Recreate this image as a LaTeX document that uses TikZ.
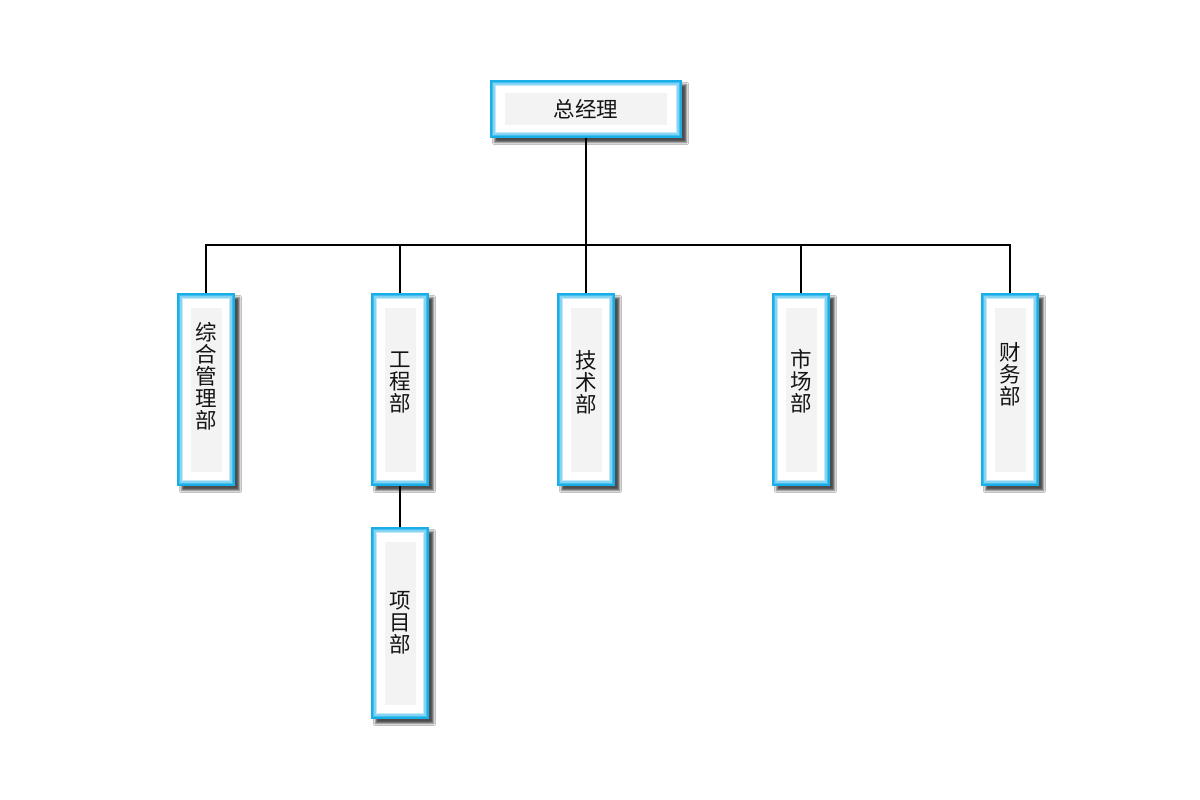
\documentclass[tikz,border=0pt]{standalone}
\usepackage{fontspec}
\newfontfamily\cjk{Noto Sans CJK SC}
\usetikzlibrary{shadows.blur}
\definecolor{bc1}{HTML}{18AEE8}
\definecolor{bc2}{HTML}{45BEEE}
\definecolor{bc3}{HTML}{86D4F4}
\definecolor{bc4}{HTML}{C4E9F9}
\definecolor{ingray}{HTML}{F3F3F3}
\definecolor{txt}{HTML}{141414}
\tikzset{
  box/.style={rectangle, inner sep=0pt, fill=bc1, text=txt, align=center,
    font={\cjk\fontsize{21.5}{22}\selectfont},
    blur shadow={shadow xshift=4.5pt, shadow yshift=-4.5pt, shadow blur radius=2.2pt, shadow opacity=70},
    path picture={
      \fill[bc2] ([shift={(2pt,-2pt)}]path picture bounding box.north west) rectangle ([shift={(-2pt,2pt)}]path picture bounding box.south east);
      \fill[bc3] ([shift={(3.4pt,-3.4pt)}]path picture bounding box.north west) rectangle ([shift={(-3.4pt,3.4pt)}]path picture bounding box.south east);
      \fill[bc4] ([shift={(4.8pt,-4.8pt)}]path picture bounding box.north west) rectangle ([shift={(-4.8pt,4.8pt)}]path picture bounding box.south east);
      \fill[white] ([shift={(6.2pt,-6.2pt)}]path picture bounding box.north west) rectangle ([shift={(-6.2pt,6.2pt)}]path picture bounding box.south east);
      \fill[ingray] ([shift={(\pgfkeysvalueof{/tikz/inx},-\pgfkeysvalueof{/tikz/iny})}]path picture bounding box.north west) rectangle ([shift={(-\pgfkeysvalueof{/tikz/inx},\pgfkeysvalueof{/tikz/iny})}]path picture bounding box.south east);
    }},
  inx/.initial=15pt, iny/.initial=13pt,
  dept/.style={box, minimum width=58pt, minimum height=193pt, inx=13.5pt, iny=14.5pt},
  conn/.style={draw=black, line width=2pt}
}
\begin{document}
\begin{tikzpicture}[x=1pt,y=-1pt]
\useasboundingbox[fill=white] (0,0) rectangle (1200,800);
\node[box, minimum width=192pt, minimum height=58pt] (gm) at (586,109) {总经理};
\node[dept, text depth=27.5pt] (zh) at (206,389.5) {综\\合\\管\\理\\部};
\node[dept, text depth=15.5pt] (gc) at (400,389.5) {工\\程\\部};
\node[dept, text depth=16.5pt] (js) at (586,389.5) {技\\术\\部};
\node[dept, text depth=18.5pt] (sc) at (801,389.5) {市\\场\\部};
\node[dept, text depth=32.5pt] (cw) at (1010,389.5) {财\\务\\部};
\node[dept, minimum height=192pt] (xm) at (400,623) {项\\目\\部};
\coordinate (j) at (gm.south |- 0,245);
\draw[conn] (gm.south) -- (j);
\draw[conn] (zh.north) |- (j);
\draw[conn] (gc.north) |- (j);
\draw[conn] (js.north) -- (j);
\draw[conn] (sc.north) |- (j);
\draw[conn] (cw.north) |- (j);
\draw[conn] (gc.south) -- (xm.north);
\end{tikzpicture}
\end{document}
